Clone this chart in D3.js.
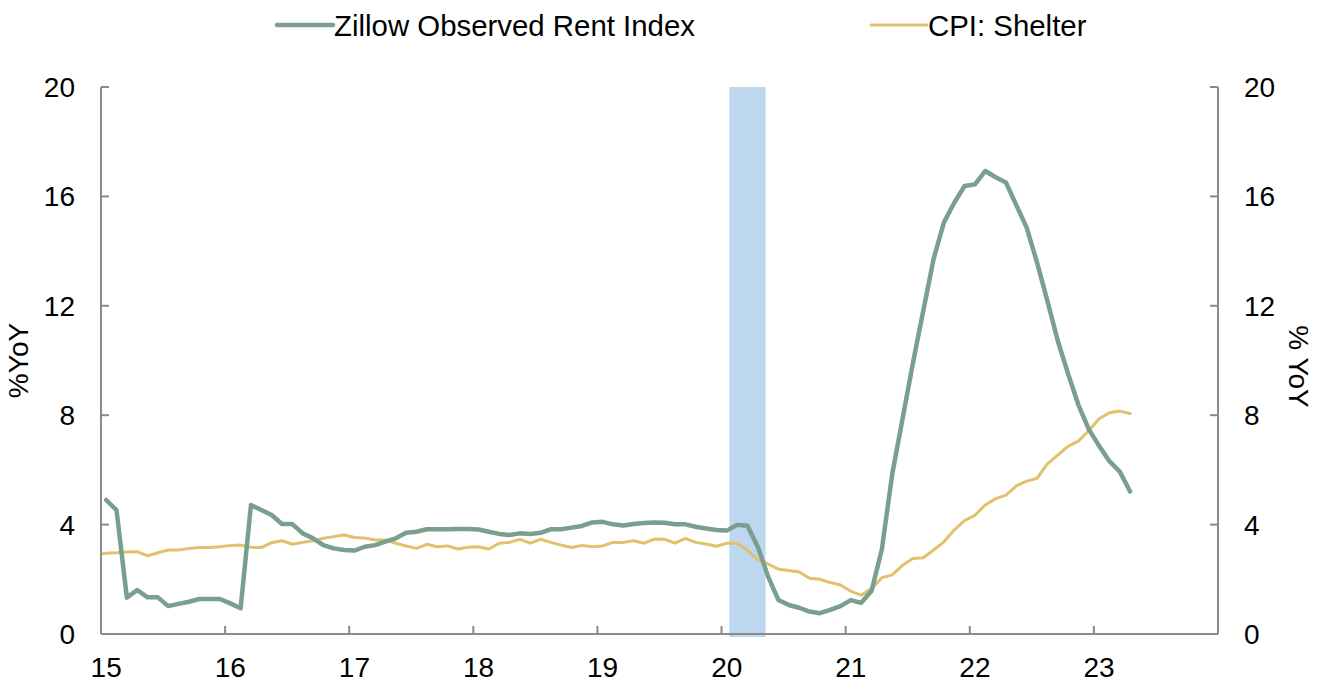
<!DOCTYPE html>
<html>
<head>
<meta charset="utf-8">
<script src="https://cdn.jsdelivr.net/npm/d3@7"></script>
<style>
  body { margin: 0; background: #fff; }
  svg { display: block; font-family: "Liberation Sans", Arial, sans-serif; }
</style>
</head>
<body>
<svg id="chart" width="1323" height="685"></svg>
<script>
// monthly %YoY, Zillow from Jan 2015, CPI shelter from Dec 2014 (one month earlier)
var yearLabels = ['15', '16', '17', '18', '19', '20', '21', '22', '23'];
var yTicks = [0, 4, 8, 12, 16, 20];

var zillow = [
  4.90, 4.53, 1.33, 1.61, 1.34, 1.34, 1.02, 1.10, 1.18, 1.28, 1.28, 1.28,
  1.12, 0.94, 4.72, 4.53, 4.35, 4.02, 4.02, 3.68, 3.50, 3.25, 3.13, 3.07,
  3.05, 3.19, 3.25, 3.38, 3.50, 3.70, 3.74, 3.83, 3.83, 3.83, 3.84, 3.84,
  3.82, 3.74, 3.66, 3.62, 3.68, 3.66, 3.70, 3.83, 3.83, 3.89, 3.95, 4.08,
  4.10, 4.01, 3.97, 4.02, 4.06, 4.08, 4.07, 4.01, 4.01, 3.92, 3.86, 3.80,
  3.78, 3.99, 3.96, 3.19, 2.10, 1.24, 1.06, 0.96, 0.82, 0.76, 0.88, 1.02,
  1.24, 1.14, 1.57, 3.10, 5.84, 7.87, 9.90, 11.81, 13.71, 15.05, 15.77, 16.38,
  16.44, 16.93, 16.70, 16.51, 15.68, 14.86, 13.59, 12.19, 10.73, 9.52, 8.38, 7.49,
  6.88, 6.32, 5.94, 5.21
];

var cpiShelter = [
  2.90,
  2.95, 2.97, 3.00, 3.01, 2.86, 2.97, 3.07, 3.07, 3.13, 3.16, 3.16, 3.19,
  3.24, 3.25, 3.17, 3.16, 3.34, 3.41, 3.28, 3.35, 3.41, 3.50, 3.56, 3.62,
  3.53, 3.51, 3.44, 3.44, 3.32, 3.22, 3.13, 3.28, 3.19, 3.22, 3.11, 3.17,
  3.19, 3.11, 3.32, 3.35, 3.46, 3.32, 3.46, 3.35, 3.25, 3.16, 3.24, 3.19,
  3.22, 3.35, 3.35, 3.41, 3.32, 3.47, 3.46, 3.32, 3.50, 3.35, 3.29, 3.21,
  3.32, 3.32, 3.07, 2.71, 2.56, 2.37, 2.32, 2.27, 2.04, 2.00, 1.88, 1.79,
  1.56, 1.42, 1.66, 2.06, 2.16, 2.51, 2.76, 2.79, 3.07, 3.37, 3.81, 4.15,
  4.34, 4.72, 4.95, 5.08, 5.42, 5.59, 5.69, 6.22, 6.54, 6.86, 7.05, 7.43,
  7.87, 8.09, 8.15, 8.06
];

// recession shading, month index from Jan 2015 (Feb 2020 - Apr 2020)
var recession = [61, 63];

var series = [
  {name: 'Zillow Observed Rent Index', values: zillow, offset: 0, color: '#7a9e8f', width: 4.5},
  {name: 'CPI: Shelter', values: cpiShelter, offset: -1, color: '#e2c06c', width: 3}
];

var svg = d3.select('#chart');
var margin = {left: 101, right: 105, top: 87, bottom: 51};
var W = 1323, H = 685;
var axisColor = '#8a8a8a';

var nMonths = yearLabels.length * 12;
var x = d3.scaleLinear().domain([0, nMonths]).range([margin.left, W - margin.right]);
var y = d3.scaleLinear().domain([0, 20]).range([H - margin.bottom, margin.top]);
var step = x(1) - x(0);
function xc(i) { return x(i + 0.5); }

svg.append('clipPath').attr('id', 'plotclip')
  .append('rect')
  .attr('x', x(0)).attr('y', 0)
  .attr('width', x(nMonths) - x(0)).attr('height', H);

// recession band
svg.append('rect')
  .attr('x', xc(recession[0]) - 0.75 * step)
  .attr('y', y(20))
  .attr('width', xc(recession[1]) - xc(recession[0]) + 1.5 * step)
  .attr('height', y(0) - y(20) + 3)
  .attr('fill', '#bdd7ee');

// lines (cpi first so zillow sits on top)
var line = d3.line()
  .x(function(d) { return xc(d.i); })
  .y(function(d) { return y(d.v); });

series.slice().reverse().forEach(function(s) {
  var pts = s.values.map(function(v, k) { return {i: k + s.offset, v: v}; });
  svg.append('path')
    .datum(pts)
    .attr('clip-path', 'url(#plotclip)')
    .attr('d', line)
    .attr('fill', 'none')
    .attr('stroke', s.color)
    .attr('stroke-width', s.width)
    .attr('stroke-linejoin', 'round')
    .attr('stroke-linecap', 'round');
});

// axes
var axes = svg.append('g')
  .attr('stroke', axisColor)
  .attr('stroke-width', 2)
  .attr('fill', 'none');

axes.append('line')
  .attr('x1', x(0)).attr('x2', x(nMonths))
  .attr('y1', y(0)).attr('y2', y(0));
axes.append('line')
  .attr('x1', x(0)).attr('x2', x(0))
  .attr('y1', y(0)).attr('y2', y(20));
axes.append('line')
  .attr('x1', x(nMonths)).attr('x2', x(nMonths))
  .attr('y1', y(0)).attr('y2', y(20));

// inward ticks
d3.range(0, nMonths + 1, 12).forEach(function(m) {
  axes.append('line')
    .attr('x1', x(m)).attr('x2', x(m))
    .attr('y1', y(0)).attr('y2', y(0) - 8);
});
yTicks.forEach(function(t) {
  axes.append('line')
    .attr('x1', x(0)).attr('x2', x(0) + 8)
    .attr('y1', y(t)).attr('y2', y(t));
  axes.append('line')
    .attr('x1', x(nMonths)).attr('x2', x(nMonths) - 8)
    .attr('y1', y(t)).attr('y2', y(t));
});

var fs = 28;

// tick labels
svg.selectAll('.ylab-l')
  .data(yTicks).enter()
  .append('text')
  .attr('x', x(0) - 26)
  .attr('y', function(d) { return y(d); })
  .attr('dy', '0.36em')
  .attr('text-anchor', 'end')
  .style('font-size', fs + 'px')
  .text(function(d) { return d; });

svg.selectAll('.ylab-r')
  .data(yTicks).enter()
  .append('text')
  .attr('x', x(nMonths) + 26)
  .attr('y', function(d) { return y(d); })
  .attr('dy', '0.36em')
  .attr('text-anchor', 'start')
  .style('font-size', fs + 'px')
  .text(function(d) { return d; });

svg.selectAll('.xlab')
  .data(yearLabels).enter()
  .append('text')
  .attr('x', function(d, k) { return xc(k * 12); })
  .attr('y', y(0) + 43)
  .attr('text-anchor', 'middle')
  .style('font-size', fs + 'px')
  .text(function(d) { return d; });

// axis titles
var midY = (y(0) + y(20)) / 2;
svg.append('text')
  .attr('transform', 'translate(28,' + midY + ') rotate(-90)')
  .attr('text-anchor', 'middle')
  .style('font-size', fs + 'px')
  .text('%YoY');

svg.append('text')
  .attr('transform', 'translate(1289,' + (midY + 6) + ') rotate(90)')
  .attr('text-anchor', 'middle')
  .style('font-size', fs + 'px')
  .text('% YoY');

// legend
var legendX = [277, 871];
series.forEach(function(s, k) {
  var g = svg.append('g').attr('transform', 'translate(' + legendX[k] + ',25)');
  g.append('line')
    .attr('x1', 0).attr('x2', 56)
    .attr('y1', 0).attr('y2', 0)
    .attr('stroke', s.color)
    .attr('stroke-width', s.width)
    .attr('stroke-linecap', 'round');
  g.append('text')
    .attr('x', 57)
    .attr('dy', '0.36em')
    .style('font-size', '29.4px')
    .text(s.name);
});
</script>
</body>
</html>
